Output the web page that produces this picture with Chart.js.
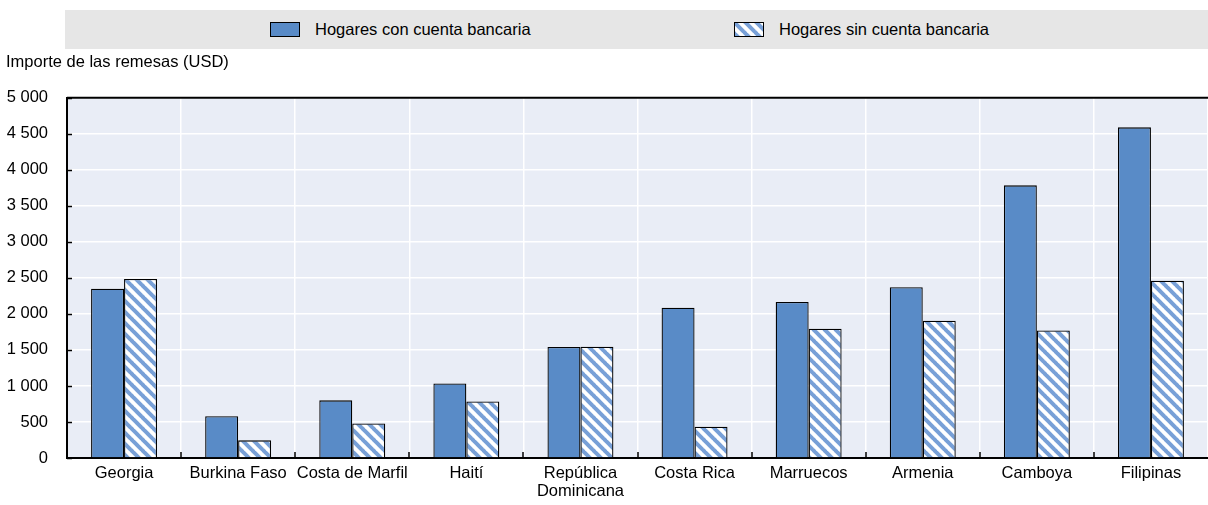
<!DOCTYPE html>
<html>
<head>
<meta charset="utf-8">
<script src="https://cdn.jsdelivr.net/npm/chart.js@4.4.1/dist/chart.umd.min.js"></script>
<style>
  html, body { margin: 0; padding: 0; background: #fff; }
  #wrap { position: relative; width: 1208px; height: 505px; }
  #legend { position: absolute; left: 65px; top: 10px; width: 1143px; height: 39px; background: #e6e6e6; }
  .item { position: absolute; top: 0; height: 39px; display: flex; align-items: center;
          font-family: "Liberation Sans Narrow", "Arial Narrow", "Liberation Sans", sans-serif; font-size: 16.5px; color: #000; }
  .item canvas { margin-right: 15px; }
</style>
</head>
<body>
<div id="wrap">
  <canvas id="c" width="1208" height="505"></canvas>
  <div id="legend"></div>
</div>
<script>
const categories = ["Georgia", "Burkina Faso", "Costa de Marfil", "Haití", ["República", "Dominicana"], "Costa Rica", "Marruecos", "Armenia", "Camboya", "Filipinas"];
const seriesNames = ["Hogares con cuenta bancaria", "Hogares sin cuenta bancaria"];
const conCuenta = [2350, 580, 800, 1035, 1540, 2085, 2165, 2370, 3785, 4590];
const sinCuenta = [2485, 245, 480, 785, 1545, 435, 1795, 1905, 1770, 2460];
const yTicks = [0, 500, 1000, 1500, 2000, 2500, 3000, 3500, 4000, 4500, 5000];
const yTitle = "Importe de las remesas (USD)";

const FONT = '"Liberation Sans Narrow", "Arial Narrow", "Liberation Sans", sans-serif';
const FS = 16.5;
const BLUE = 'rgb(89,139,199)';
const STRIPE = 'rgb(120,160,215)';

function makePattern(ctx) {
  const s = 11;
  const t = document.createElement('canvas');
  t.width = s; t.height = s;
  const g = t.getContext('2d');
  g.fillStyle = '#fff';
  g.fillRect(0, 0, s, s);
  g.strokeStyle = STRIPE;
  g.lineWidth = 4;
  for (let k = -1; k <= 1; k++) {
    g.beginPath();
    g.moveTo(k * s - 1, -1);
    g.lineTo(k * s + s + 1, s + 1);
    g.stroke();
  }
  return ctx.createPattern(t, 'repeat');
}

const ctx = document.getElementById('c').getContext('2d');
const hatch = makePattern(ctx);

// legend (HTML)
const legendEl = document.getElementById('legend');
const legendX = [205, 669];
seriesNames.forEach((name, i) => {
  const it = document.createElement('div');
  it.className = 'item';
  it.style.left = legendX[i] + 'px';
  const sw = document.createElement('canvas');
  sw.width = 30; sw.height = 15;
  const sc = sw.getContext('2d');
  sc.fillStyle = i === 0 ? BLUE : makePattern(sc);
  sc.fillRect(0, 0, 30, 15);
  sc.strokeStyle = '#000';
  sc.lineWidth = 1;
  sc.strokeRect(0.5, 0.5, 29, 14);
  it.appendChild(sw);
  const tx = document.createElement('span');
  tx.textContent = name;
  it.appendChild(tx);
  legendEl.appendChild(it);
});

const decor = {
  id: 'decor',
  beforeDraw(chart) {
    const a = chart.chartArea, c = chart.ctx;
    c.save();
    c.fillStyle = 'rgb(233,237,246)';
    c.fillRect(a.left, a.top, a.right - a.left, a.bottom - a.top);
    c.restore();
  },
  afterDatasetsDraw(chart) {
    const a = chart.chartArea, c = chart.ctx;
    const x = chart.scales.x, y = chart.scales.y;
    c.save();
    c.strokeStyle = '#000';
    c.lineWidth = 1.5;
    yTicks.forEach(v => {
      const py = Math.round(y.getPixelForValue(v)) + 0.5;
      c.beginPath(); c.moveTo(a.left, py); c.lineTo(a.left + 5, py); c.stroke();
    });
    const w = (a.right - a.left) / categories.length;
    for (let i = 1; i < categories.length; i++) {
      const px = Math.round(x.getPixelForValue(i) - w / 2);
      c.beginPath(); c.moveTo(px, a.bottom); c.lineTo(px, a.bottom - 6); c.stroke();
    }
    c.lineWidth = 2;
    c.beginPath(); c.moveTo(a.left, a.top); c.lineTo(a.right, a.top); c.stroke();
    c.restore();
  }
};

new Chart(ctx, {
  type: 'bar',
  data: {
    labels: categories,
    datasets: [
      { label: seriesNames[0], data: conCuenta, backgroundColor: BLUE, borderColor: '#000', borderWidth: 1.3,
        categoryPercentage: 0.578, barPercentage: 1.0 },
      { label: seriesNames[1], data: sinCuenta, backgroundColor: hatch, borderColor: '#000', borderWidth: 1.3,
        categoryPercentage: 0.578, barPercentage: 1.0 }
    ]
  },
  options: {
    responsive: false,
    animation: false,
    devicePixelRatio: 1,
    layout: { padding: { top: 50, left: 6, right: 0, bottom: 0 } },
    plugins: {
      legend: { display: false },
      tooltip: { enabled: false },
      title: {
        display: true, text: yTitle, align: 'start', color: '#000',
        font: { family: FONT, size: FS, weight: 'normal', lineHeight: 1.2 },
        padding: { top: 3, bottom: 25 }
      }
    },
    scales: {
      x: {
        afterFit(s) { s.height = 47; },
        grid: { color: '#fff', lineWidth: 1.5, offset: true, drawTicks: false },
        border: { color: '#000', width: 2 },
        ticks: { color: '#000', font: { family: FONT, size: FS, lineHeight: 1.1 }, padding: 6, maxRotation: 0, autoSkip: false }
      },
      y: {
        min: 0, max: 5000,
        afterFit(s) { s.width = 61; },
        afterBuildTicks(s) { s.ticks = yTicks.map(v => ({ value: v })); },
        grid: { color: '#fff', lineWidth: 1.5, drawTicks: false },
        border: { color: '#000', width: 2 },
        ticks: {
          color: '#000', font: { family: FONT, size: FS }, padding: 19,
          callback: v => v >= 1000 ? Math.floor(v / 1000) + ' ' + String(v % 1000).padStart(3, '0') : String(v)
        }
      }
    }
  },
  plugins: [decor]
});
</script>
</body>
</html>
